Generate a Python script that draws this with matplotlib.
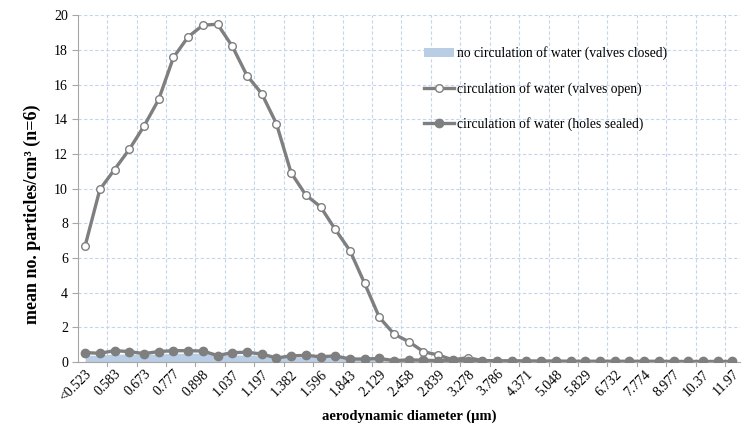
import numpy as np
import matplotlib.pyplot as plt
from matplotlib.patches import Patch
from matplotlib.lines import Line2D

plt.rcParams['font.family'] = ['Liberation Serif', 'DejaVu Serif']

# APS size channels (um)
sizes = ['<0.523', '0.542', '0.583', '0.626', '0.673', '0.723', '0.777', '0.835',
         '0.898', '0.965', '1.037', '1.114', '1.197', '1.286', '1.382', '1.486',
         '1.596', '1.715', '1.843', '1.981', '2.129', '2.288', '2.458', '2.642',
         '2.839', '3.051', '3.278', '3.523', '3.786', '4.068', '4.371', '4.698',
         '5.048', '5.425', '5.829', '6.264', '6.732', '7.234', '7.774', '8.354',
         '8.977', '9.647', '10.37', '11.14', '11.97']

# no circulation of water (valves closed)
valves_closed = [0.38, 0.40, 0.45, 0.45, 0.45, 0.45, 0.50, 0.50, 0.50, 0.45,
                 0.40, 0.40, 0.40, 0.30, 0.28, 0.28, 0.28, 0.25, 0.20, 0.15,
                 0.12, 0.10, 0.08, 0.06, 0.05, 0.05, 0.04, 0.04, 0.03, 0.03,
                 0.03, 0.02, 0.02, 0.02, 0.02, 0.02, 0.01, 0.01, 0.01, 0.01,
                 0.01, 0.01, 0.01, 0.01, 0.01]

# circulation of water (valves open)
valves_open = [6.70, 9.95, 11.10, 12.26, 13.60, 15.14, 17.56, 18.75, 19.42, 19.48,
               18.21, 16.52, 15.48, 13.75, 10.91, 9.63, 8.95, 7.65, 6.42, 4.53,
               2.57, 1.61, 1.17, 0.59, 0.40, 0.12, 0.25, 0.08, 0.06, 0.05,
               0.04, 0.03, 0.03, 0.02, 0.02, 0.02, 0.02, 0.01, 0.01, 0.01,
               0.01, 0.01, 0.01, 0.01, 0.01]

# circulation of water (holes sealed)
holes_sealed = [0.54, 0.50, 0.65, 0.60, 0.48, 0.60, 0.65, 0.65, 0.63, 0.37,
                0.54, 0.56, 0.46, 0.23, 0.35, 0.38, 0.30, 0.35, 0.17, 0.17,
                0.20, 0.08, 0.12, 0.10, 0.08, 0.10, 0.08, 0.08, 0.06, 0.06,
                0.05, 0.05, 0.05, 0.04, 0.04, 0.04, 0.04, 0.04, 0.04, 0.04,
                0.03, 0.03, 0.03, 0.03, 0.03]

x = np.arange(len(sizes))
line_col = '#7f7f7f'
fill_col = '#b9cde5'
grid_col = '#c5d5ea'

fig = plt.figure(figsize=(7.48, 4.34), dpi=100)
ax = fig.add_axes([0.104, 0.166, 0.885, 0.799])

ax.fill_between(x, valves_closed, color=fill_col, lw=0, zorder=2)
ax.plot(x, valves_open, color=line_col, lw=2.4, marker='o', ms=5.5,
        mfc='white', mec=line_col, mew=1.0, zorder=3)
ax.plot(x, holes_sealed, color=line_col, lw=2.4, marker='o', ms=6,
        mfc=line_col, mec=line_col, zorder=4)

ax.set_xlim(-0.5, len(sizes) - 0.5)
ax.set_ylim(0, 20)
ax.set_yticks(np.arange(0, 21, 2))
ax.set_xticks(x[::2])
ax.set_xticklabels(sizes[::2], rotation=45, ha='right', rotation_mode='anchor',
                   fontsize=10)
ax.tick_params(axis='x', length=0, pad=4)
ax.tick_params(axis='y', labelsize=10, length=4, color='#a6a6a6', pad=3)

# gridlines at category boundaries
for gx in np.arange(1.5, len(sizes) - 0.5, 2):
    ax.axvline(gx, color=grid_col, lw=0.8, ls=(0, (3, 2)), zorder=1)
    ax.plot([gx, gx], [0, -0.25], color='#a6a6a6', lw=0.8, clip_on=False)
for gy in np.arange(2, 21, 2):
    ax.axhline(gy, color=grid_col, lw=0.8, ls=(0, (3, 2)), zorder=1)

for s in ['top', 'right']:
    ax.spines[s].set_visible(False)
ax.spines['left'].set_color('#a6a6a6')
ax.spines['bottom'].set_color('#a6a6a6')

ax.set_xlabel('aerodynamic diameter (\u00b5m)', fontsize=10.5, fontweight='bold',
              labelpad=4)
ax.set_ylabel('mean no. particles/cm\u00b3 (n=6)', fontsize=13,
              fontweight='bold')
ax.yaxis.set_label_coords(-0.055, 0.425)

handles = [Patch(facecolor=fill_col, edgecolor='none'),
           Line2D([], [], color=line_col, lw=2.4, marker='o', ms=5.5,
                  mfc='white', mec=line_col),
           Line2D([], [], color=line_col, lw=2.4, marker='o', ms=6,
                  mfc=line_col, mec=line_col)]
labels = ['no circulation of water (valves closed)',
          'circulation of water (valves open)',
          'circulation of water (holes sealed)']
leg = ax.legend(handles, labels, loc='upper left', bbox_to_anchor=(0.505, 0.945),
                frameon=False, fontsize=9.8, labelspacing=1.55, handlelength=2.2,
                handletextpad=0.2, handleheight=0.6)

fig.savefig('out.png', dpi=100)
